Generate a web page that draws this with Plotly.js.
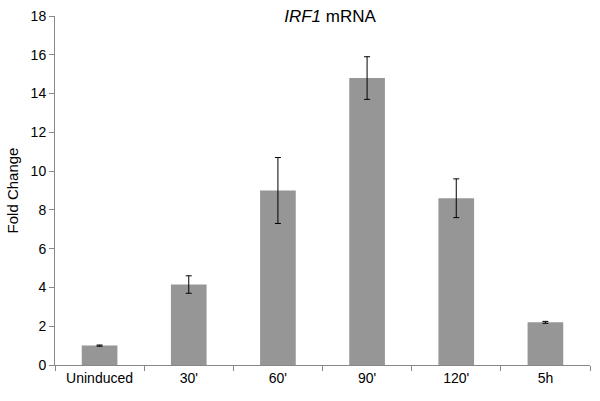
<!DOCTYPE html>
<html><head><script src="https://cdn.plot.ly/plotly-3.0.1.min.js"></script></head>
<body style="margin:0">
<div id="c" style="width:600px;height:401px"></div>
<script>
const categories = ["Uninduced", "30'", "60'", "90'", "120'", "5h"];
const foldChange = [1.0, 4.15, 9.0, 14.8, 8.6, 2.2];
const errors = [0.03, 0.45, 1.7, 1.1, 1.0, 0.05];
const yTicks = [0, 2, 4, 6, 8, 10, 12, 14, 16, 18];

Plotly.newPlot('c', [{
  type: 'bar', x: categories, y: foldChange,
  marker: {color: '#969696'},
  error_y: {type: 'data', array: errors, visible: true, color: '#000', thickness: 1, width: 3}
}], {
  width: 600, height: 401,
  margin: {l: 55, r: 10, t: 16, b: 36},
  paper_bgcolor: '#fff', plot_bgcolor: '#fff',
  font: {family: 'Liberation Sans, Arial, sans-serif', size: 14, color: '#000'},
  title: {text: '<i>IRF1</i> mRNA', x: 0.55, y: 0.975, font: {size: 17}},
  bargap: 0.6,
  xaxis: {type: 'category', showline: true, linecolor: '#888', ticks: 'outside', tickcolor: '#888', ticklen: 5, tickson: 'boundaries', tickfont: {size: 14}},
  yaxis: {range: [0, 18], tickvals: yTicks, showgrid: false, showline: true, linecolor: '#888', ticks: 'outside', tickcolor: '#888', ticklen: 5, zeroline: false,
    title: {text: 'Fold Change', font: {size: 15}, standoff: 8}, tickfont: {size: 14}}
}, {displayModeBar: false});
</script></body></html>
